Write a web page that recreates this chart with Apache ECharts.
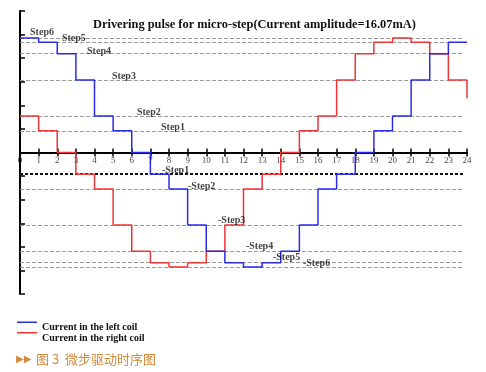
<!DOCTYPE html>
<html><head><meta charset="utf-8">
<script src="https://cdn.jsdelivr.net/npm/echarts@6/dist/echarts.min.js"></script>
<style>html,body{margin:0;padding:0;background:#fff}#c{width:486px;height:372px}</style>
</head><body><div id="c"></div>
<script>
// time steps (x axis)
const steps = [0,1,2,3,4,5,6,7,8,9,10,11,12,13,14,15,16,17,18,19,20,21,22,23,24];
const tickLabels = ['0','1','2','3','4','5','6','7','8','9','10','11','12','13','14','15','16','17','18','19','20','21','22','23','24'];
// current in each coil for the interval starting at each step (arbitrary units, axis spans -6..6)
const leftCoil  = [4.85,4.67,4.19,3.07,1.55,0.92,0,-0.92,-1.55,-3.07,-4.19,-4.67,-4.85,-4.67,-4.19,-3.07,-1.55,-0.92,0,0.92,1.55,3.07,4.19,4.67,4.67];
const rightCoil = [1.55,0.92,0,-0.92,-1.55,-3.07,-4.19,-4.67,-4.85,-4.67,-4.19,-3.07,-1.55,-0.92,0,0.92,1.55,3.07,4.19,4.67,4.85,4.67,4.19,3.07,2.3];
// reference levels (dashed lines)
const levelsPos = [4.85,4.67,4.19,3.07,1.55,0.92];
const levelsNeg = [-0.92,-1.55,-3.07,-4.19,-4.67,-4.85];
// step annotation labels: [x, y, text]
const stepLabels = [
  [0.54,5.10,'Step6'],[2.25,4.84,'Step5'],[3.6,4.29,'Step4'],[4.94,3.23,'Step3'],[6.28,1.71,'Step2'],[7.57,1.07,'Step1'],
  [7.62,-0.75,'-Step1'],[9.02,-1.42,'-Step2'],[10.63,-2.90,'-Step3'],[12.13,-3.98,'-Step4'],[13.58,-4.47,'-Step5'],[15.19,-4.72,'-Step6']
];
const seriesNames = ['Current in the left coil','Current in the right coil'];
const titleText = 'Drivering pulse for micro-step(Current amplitude=16.07mA)';
const captionText = '图 3  微步驱动时序图';

const serif = '"Liberation Serif","DejaVu Serif",serif';
const chart = echarts.init(document.getElementById('c'));

const levelLines = [];
levelsPos.forEach(v => levelLines.push([{coord:[0,v]},{coord:[23.8,v]}]));
levelsNeg.forEach((v,i) => {
  const l = [{coord:[0,v]},{coord:[23.8,v]}];
  if (i === 0) l[0].lineStyle = {color:'#111', width:2, type:[3,2]};
  levelLines.push(l);
});

const xCommon = {type:'value', min:0, max:24, interval:1, axisLabel:{show:false},
  axisLine:{onZero:true, onZeroAxisIndex:0, lineStyle:{color:'#000', width:2}}, splitLine:{show:false}};

chart.setOption({
  animation:false,
  backgroundColor:'#fff',
  title:{text:titleText, left:88, top:14, textStyle:{fontFamily:serif, fontWeight:'bold', fontSize:12.4, color:'#111'}},
  grid:{left:20, right:19, top:11, bottom:78, containLabel:false},
  legend:[
    {data:[seriesNames[0]], orient:'vertical', left:17, top:321.5, padding:0, itemGap:0,
     icon:'path://M0,0L20,0L20,1.6L0,1.6Z M0,11L20,11L20,11.01L0,11.01Z', itemWidth:20, itemHeight:11,
     textStyle:{fontFamily:serif, fontWeight:'bold', fontSize:10, color:'#111'}},
    {data:[seriesNames[1]], orient:'vertical', left:17, top:332, padding:0, itemGap:0,
     icon:'path://M0,0L20,0L20,1.6L0,1.6Z M0,13L20,13L20,13.01L0,13.01Z', itemWidth:20, itemHeight:13,
     textStyle:{fontFamily:serif, fontWeight:'bold', fontSize:10, color:'#111'}}
  ],
  xAxis:[
    Object.assign({}, xCommon, {position:'bottom', axisTick:{show:true, inside:false, length:4, lineStyle:{color:'#000', width:1.5}}}),
    Object.assign({}, xCommon, {position:'top', axisTick:{show:true, inside:false, length:4, lineStyle:{color:'#000', width:1.5}}})
  ],
  yAxis:{type:'value', min:-6, max:6, interval:1, axisLine:{show:true, onZero:false, lineStyle:{color:'#000', width:2}},
    axisTick:{show:true, inside:true, length:5, lineStyle:{color:'#000', width:1.5}}, axisLabel:{show:false}, splitLine:{show:false}},
  series:[
    {name:seriesNames[0], type:'line', step:'end', symbol:'none', data:steps.map((x,i)=>[x,leftCoil[i]]),
     lineStyle:{color:'#2b2be8', width:1.5}, itemStyle:{color:'#2b2be8'}, z:3,
     markLine:{silent:true, symbol:'none', label:{show:false}, lineStyle:{color:'#9a9a9a', width:1, type:[4,2]}, data:levelLines, z:1}},
    {name:seriesNames[1], type:'line', step:'end', symbol:'none', data:steps.map((x,i)=>[x,rightCoil[i]]),
     lineStyle:{color:'#ee3535', width:1.5}, itemStyle:{color:'#ee3535'}, z:2},
    {type:'scatter', symbolSize:0, data:stepLabels, silent:true, z:5,
     label:{show:true, position:'right', distance:0, formatter:(p)=>p.value[2], fontFamily:serif, fontWeight:'bold', fontSize:10, color:'#111'}},
    {type:'scatter', symbolSize:0, data:steps.map((x,i)=>[x,0,tickLabels[i]]), silent:true, z:5,
     label:{show:true, position:'bottom', distance:4, formatter:(p)=>p.value[2], fontFamily:serif, fontSize:9, color:'#111'}}
  ],
  graphic:[
    {type:'text', left:16, top:354, style:{text:'▶▶', font:'10px "DejaVu Sans"', fill:'#d6893a'}},
    {type:'text', left:36, top:353, style:{text:captionText, font:'13px "Noto Sans CJK SC"', fill:'#d08a3c'}}
  ]
});
</script></body></html>
